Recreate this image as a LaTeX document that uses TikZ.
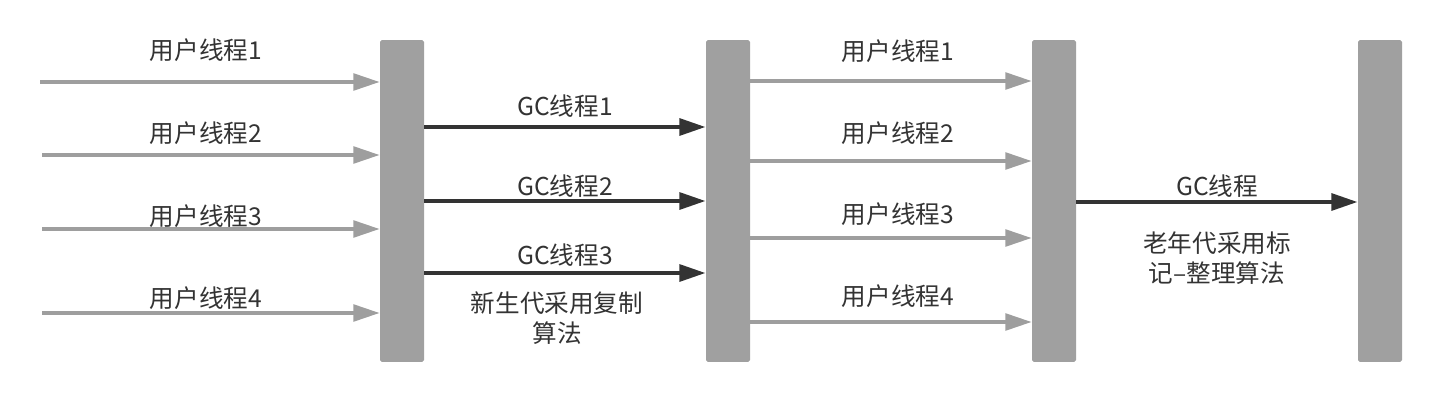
\documentclass[tikz,border=0pt]{standalone}
\usepackage{fontspec}
\usepackage{xcolor}
\usepackage{tikz}
\usetikzlibrary{arrows.meta, positioning}
\newfontfamily\cjk{Noto Sans CJK SC}
\definecolor{barfill}{HTML}{A0A0A0}
\definecolor{lightarrow}{HTML}{9E9E9E}
\definecolor{darkarrow}{HTML}{333333}

\begin{document}
\begin{tikzpicture}[
  x=0.02cm, y=-0.02cm,
  bar/.style={fill=barfill, rounded corners=1pt, minimum width=0.88cm, minimum height=6.44cm, inner sep=0pt},
  userarrow/.style={-{Triangle[length=15pt, width=9.5pt]}, line width=2pt, draw=lightarrow, fill=lightarrow},
  gcarrow/.style={-{Triangle[length=15pt, width=9.5pt]}, line width=2.4pt, draw=darkarrow, fill=darkarrow},
  lbl/.style={font=\cjk\fontsize{14pt}{17pt}\selectfont, text=darkarrow, align=center, inner sep=0pt}
]
\useasboundingbox (0,0) rectangle (1456,402);

% bars
\node[bar] (b1) at (402,201) {};
\node[bar] (b2) at (728,201) {};
\node[bar] (b3) at (1054,201) {};
\node[bar] (b4) at (1380,201) {};

% user threads before first bar
\coordinate (in1) at (40,82);
\coordinate (in2) at (42,155);
\coordinate (in3) at (42,229);
\coordinate (in4) at (42,313);
\draw[userarrow] (in1) -- (in1 -| b1.west);
\draw[userarrow] (in2) -- (in2 -| b1.west);
\draw[userarrow] (in3) -- (in3 -| b1.west);
\draw[userarrow] (in4) -- (in4 -| b1.west);
\node[lbl] (ua1) at (206,50) {用户线程1};
\node[lbl] (ua2) at (206,133) {用户线程2};
\node[lbl] (ua3) at (206,216) {用户线程3};
\node[lbl] (ua4) at (206,298) {用户线程4};

% young generation gc
\coordinate (g1) at (402,127);
\coordinate (g2) at (402,201);
\coordinate (g3) at (402,273);
\draw[gcarrow] (g1 -| b1.east) -- (g1 -| b2.west);
\draw[gcarrow] (g2 -| b1.east) -- (g2 -| b2.west);
\draw[gcarrow] (g3 -| b1.east) -- (g3 -| b2.west);
\node[lbl] (gl1) at (565,106) {GC线程1};
\node[lbl] (gl2) at (565,186) {GC线程2};
\node[lbl] (gl3) at (565,255) {GC线程3};
\node[lbl] (young) at (557,318) {新生代采用复制\\算法};

% user threads again
\coordinate (m1) at (728,81);
\coordinate (m2) at (728,161);
\coordinate (m3) at (728,238);
\coordinate (m4) at (728,322);
\draw[userarrow] (m1 -| b2.east) -- (m1 -| b3.west);
\draw[userarrow] (m2 -| b2.east) -- (m2 -| b3.west);
\draw[userarrow] (m3 -| b2.east) -- (m3 -| b3.west);
\draw[userarrow] (m4 -| b2.east) -- (m4 -| b3.west);
\node[lbl] (ub1) at (898,51) {用户线程1};
\node[lbl] (ub2) at (898,133) {用户线程2};
\node[lbl] (ub3) at (898,214) {用户线程3};
\node[lbl] (ub4) at (898,296) {用户线程4};

% old generation gc
\coordinate (o1) at (1054,202);
\draw[gcarrow] (o1 -| b3.east) -- (o1 -| b4.west);
\node[lbl] (ol) at (1217,186) {GC线程};
\node[lbl] (old) at (1217,258) {老年代采用标\\记–整理算法};
\end{tikzpicture}
\end{document}
